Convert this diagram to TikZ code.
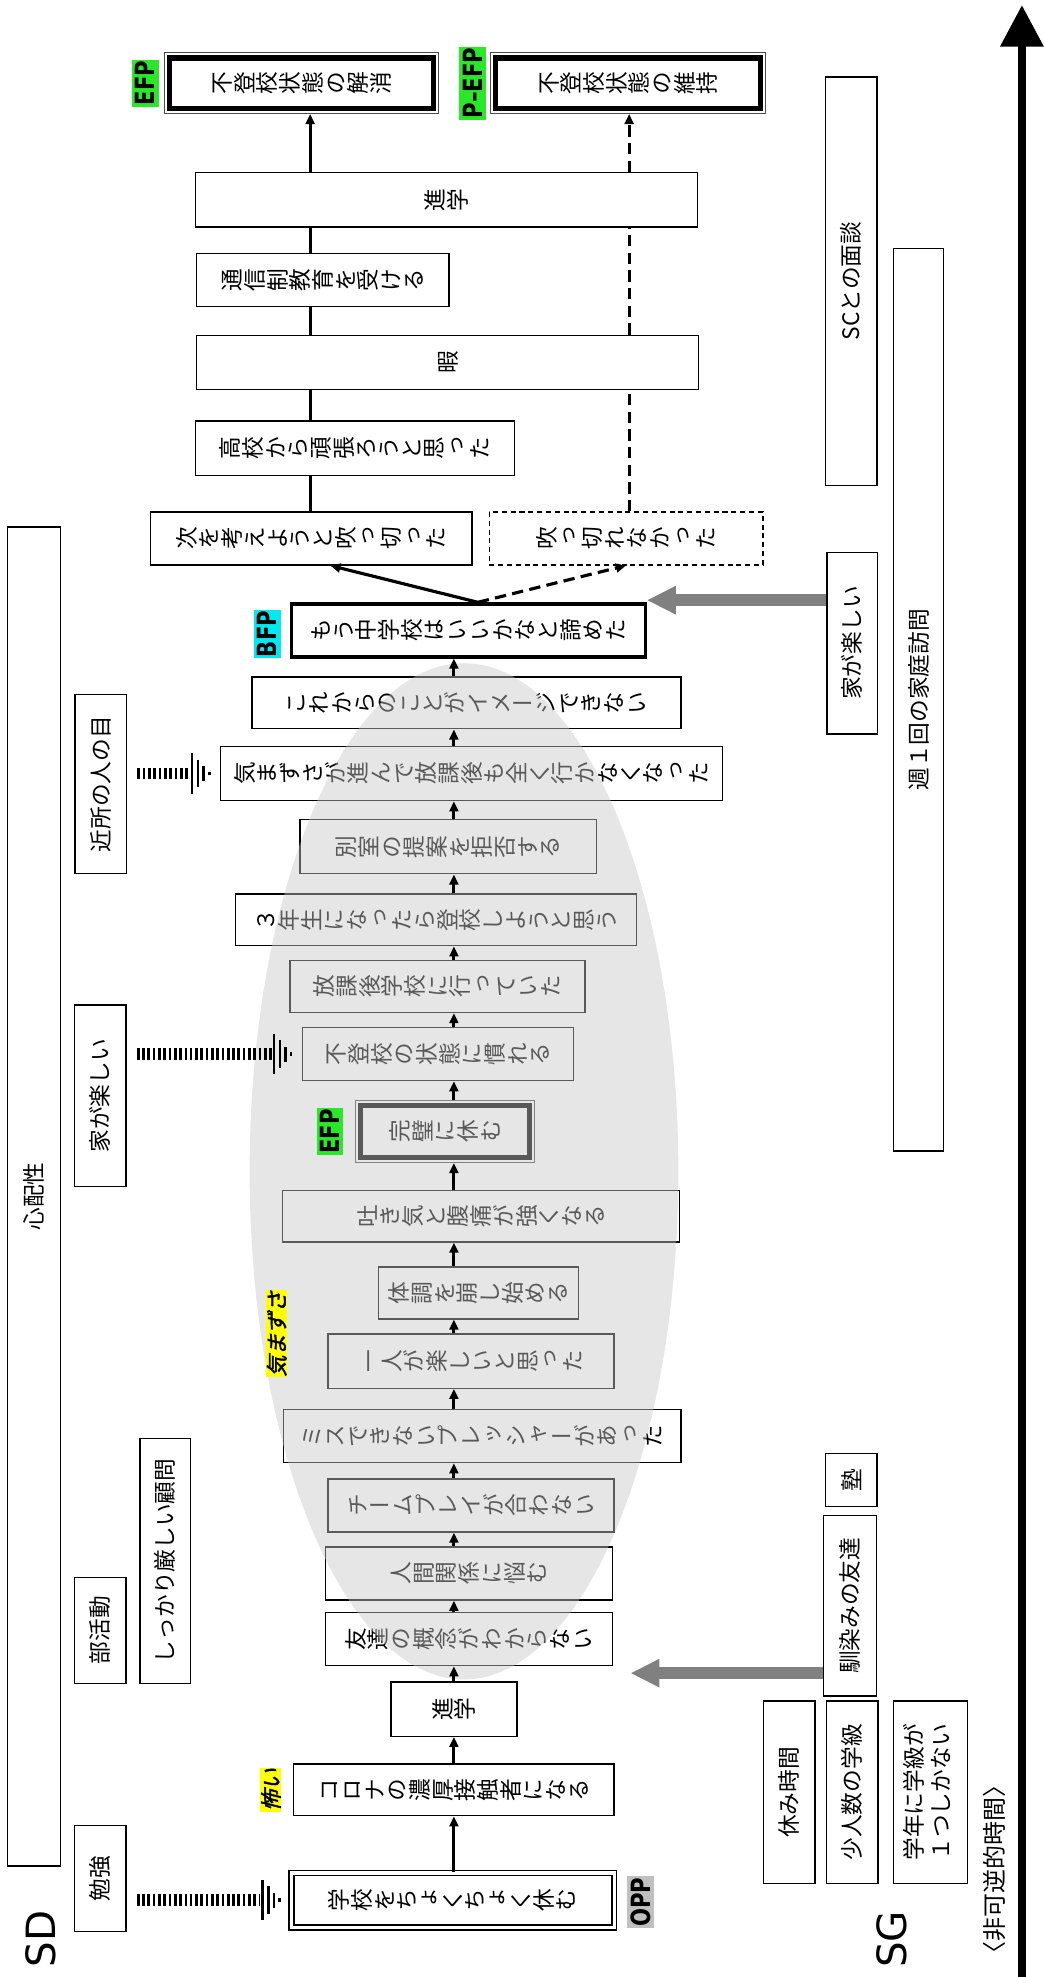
\documentclass[tikz,border=0pt]{standalone}
\usepackage{fontspec}
\usepackage{graphicx}
\usetikzlibrary{arrows.meta}
\usetikzlibrary{positioning}
\usetikzlibrary{fit}
\setmainfont{Noto Sans CJK JP}
\newfontfamily\tatefont[RawFeature=+vert]{Noto Sans CJK JP}
\newfontfamily\tagfont{DejaVu Sans}
\newfontfamily\slantfont[FakeSlant=0.25,FakeBold=2]{Noto Sans CJK JP}
\definecolor{efp-green}{RGB}{40, 232, 40}
\definecolor{bfp-cyan}{RGB}{0, 232, 240}
\definecolor{feel-yellow}{RGB}{255, 255, 0}
\definecolor{opp-gray}{RGB}{192, 192, 192}
\definecolor{sg-gray}{RGB}{128, 128, 128}
\makeatletter
\newcommand\tate[1]{{\tatefont\@tfor\tatechar:=#1\do{\rotatebox{90}{\rule[-0.12em]{0pt}{1em}\tatechar}}}}
\makeatother
\newcommand\yoko[1]{\rotatebox{90}{#1}}
\newcommand\sdline[2]{%
  \draw[sdhatch] (#1.east |- #2.west) ++(8,0) -- ([xshift=-24pt]#2.west);
  \foreach \dx/\hh in {-22/16,-17.5/11,-13/6,-8.5/1.5}
    \draw[line width=2pt] ([shift={(\dx,\hh)}]#2.west) -- ([shift={(\dx,-\hh)}]#2.west);}

\begin{document}
\begin{tikzpicture}[x=1pt, y=-1pt,
  tbox/.style={draw=black, line width=1.1pt, inner sep=0pt, font=\fontsize{18}{20}\selectfont},
  sbox/.style={draw=black, line width=1.1pt, inner sep=0pt, font=\fontsize{18}{21}\selectfont},
  efpbox/.style={draw=black, line width=4pt, inner sep=0pt, font=\fontsize{18}{20}\selectfont},
  efpframe/.style={draw=black!70, line width=0.8pt, inner sep=2pt},
  pointtag/.style={inner xsep=3pt, inner ysep=1pt, font={\fontsize{21}{21}\tagfont\bfseries}},
  feel/.style={fill=feel-yellow, inner sep=0.5pt, font={\fontsize{17}{17}\slantfont}},
  flow/.style={line width=2.5pt, -{Triangle[length=8pt,width=7pt]}},
  link/.style={line width=2.5pt},
  dlink/.style={line width=2.5pt, dash pattern=on 9pt off 5pt},
  sdhatch/.style={line width=9pt, dash pattern=on 2.1pt off 2.1pt},
  sgarrow/.style={draw=sg-gray, line width=9pt, -{Triangle[length=23pt,width=21pt]}},
  timearrow/.style={line width=6.5pt, -{Triangle[length=33pt,width=33pt]}}]
\useasboundingbox (0,0) rectangle (828,1568);

\node[tbox, double, line width=1.5pt, double distance=2.4pt, minimum width=256, minimum height=43] (opp) at (359,1507) {\tate{学校をちょくちょく休む}};
\node[tbox, minimum width=254, minimum height=41] (corona) at (360,1419.5) {\tate{コロナの濃厚接触者になる}};
\node[tbox, minimum width=100, minimum height=43] (shingakuA) at (360,1355.5) {\tate{進学}};
\node[tbox, minimum width=228, minimum height=42] (tomodachi) at (372,1300) {\tate{友達の概念がわからない}};
\node[tbox, minimum width=228, minimum height=42] (ningen) at (372,1248) {\tate{人間関係に悩む}};
\node[tbox, minimum width=227, minimum height=42] (team) at (373.5,1194) {\tate{チームプレイが合わない}};
\node[tbox, minimum width=315, minimum height=42] (misu) at (382.5,1139) {\tate{ミスできないプレッシャーがあった}};
\node[tbox, minimum width=227, minimum height=43] (hitori) at (373.5,1079.5) {\tate{一人が楽しいと思った}};
\node[tbox, minimum width=159, minimum height=41] (taicho) at (379.5,1025.5) {\tate{体調を崩し始める}};
\node[tbox, minimum width=315, minimum height=41] (hakike) at (381.5,964.5) {\tate{吐き気と腹痛が強くなる}};
\node[efpbox, minimum width=134, minimum height=41] (kanpeki) at (353,897.5) {\tate{完璧に休む}};
\node[efpframe, fit=(kanpeki)] (kanpekiF) {};
\node[tbox, minimum width=215, minimum height=42] (nareru) at (347.5,836) {\tate{不登校の状態に慣れる}};
\node[tbox, minimum width=234, minimum height=41] (houkago) at (347,782.5) {\tate{放課後学校に行っていた}};
\node[tbox, minimum width=318, minimum height=41] (sannen) at (346,729.5) {\tate{３年生になったら登校しようと思う}};
\node[tbox, minimum width=235, minimum height=43] (besshitsu) at (355.5,671.5) {\tate{別室の提案を拒否する}};
\node[tbox, minimum width=398, minimum height=43] (kimazu) at (374,613.5) {\tate{気まずさが進んで放課後も全く行かなくなった}};
\node[tbox, minimum width=340, minimum height=41] (korekara) at (370,557.5) {\tate{これからのことがイメージできない}};
\node[tbox, line width=2.6pt, minimum width=281, minimum height=42] (bfp) at (371.5,500) {\tate{もう中学校はいいかなと諦めた}};
\node[tbox, minimum width=255, minimum height=42] (tsugi) at (247,427) {\tate{次を考えようと吹っ切った}};
\node[tbox, dash pattern=on 4pt off 3pt, minimum width=217, minimum height=42] (fukkire) at (496.5,427) {\tate{吹っ切れなかった}};
\node[tbox, minimum width=253, minimum height=43] (koukou) at (281.5,355.5) {\tate{高校から頑張ろうと思った}};
\node[tbox, minimum width=398, minimum height=43] (hima) at (355,287.5) {\tate{暇}};
\node[tbox, minimum width=200, minimum height=42] (tsushin) at (256,222) {\tate{通信制教育を受ける}};
\node[tbox, minimum width=398, minimum height=43] (shingakuB) at (354,158.5) {\tate{進学}};
\node[efpbox, minimum width=209, minimum height=40] (kaisho) at (239,66) {\tate{不登校状態の解消}};
\node[efpframe, fit=(kaisho)] (kaishoF) {};
\node[efpbox, minimum width=210, minimum height=40] (iji) at (498,66) {\tate{不登校状態の維持}};
\node[efpframe, fit=(iji)] (ijiF) {};

\node[sbox, minimum width=42, minimum height=1062] (shinpai) at (27,949) {\yoko{心配性}};
\node[sbox, minimum width=41, minimum height=84] (benkyo) at (79.5,1490) {\yoko{勉強}};
\node[sbox, minimum width=41, minimum height=84] (bukatsu) at (79.5,1293) {\yoko{部活動}};
\node[sbox, minimum width=40, minimum height=194] (komon) at (131,1238) {\yoko{しっかり厳しい顧問}};
\node[sbox, minimum width=41, minimum height=144] (ieSD) at (79.5,869) {\yoko{家が楽しい}};
\node[sbox, minimum width=41, minimum height=142] (kinjo) at (80,622) {\yoko{近所の人の目}};

\node[sbox, minimum width=41, minimum height=145] (yasumi) at (626,1421.5) {\yoko{休み時間}};
\node[sbox, minimum width=41, minimum height=145] (shoninzu) at (676,1421.5) {\yoko{少人数の学級}};
\node[sbox, minimum width=59, minimum height=145] (gakunen) at (738,1421.5) {\yoko{\begin{tabular}{@{}l@{}}学年に学級が\\１つしかない\end{tabular}}};
\node[sbox, minimum width=42, minimum height=143] (najimi) at (674,1273.5) {\yoko{馴染みの友達}};
\node[sbox, minimum width=41, minimum height=42] (juku) at (675,1174) {\yoko{塾}};
\node[sbox, minimum width=40, minimum height=144] (ieSG) at (676,510) {\yoko{家が楽しい}};
\node[sbox, minimum width=40, minimum height=716] (katei) at (728.5,555) {\yoko{週１回の家庭訪問}};
\node[sbox, minimum width=41, minimum height=324] (sc) at (675,223) {\yoko{SCとの面談}};

\fill[black!22, fill opacity=0.45] (368,929) ellipse [x radius=170, y radius=403];

\coordinate (colM) at (360,0);
\coordinate (colL) at (246,0);
\coordinate (colR) at (499,0);
\foreach \a/\b in {opp/corona, corona/shingakuA, shingakuA/tomodachi, tomodachi/ningen, ningen/team, team/misu, misu/hitori, hitori/taicho, taicho/hakike, hakike/kanpekiF, kanpekiF/nareru, nareru/houkago, houkago/sannen, sannen/besshitsu, besshitsu/kimazu, kimazu/korekara, korekara/bfp}
  \draw[flow] (\a.north -| colM) -- (\b.south -| colM);
\foreach \a/\b in {tsugi/koukou, koukou/hima, hima/tsushin, tsushin/shingakuB}
  \draw[link] (\a.north -| colL) -- (\b.south -| colL);
\draw[flow] (shingakuB.north -| colL) -- (kaishoF.south -| colL);
\foreach \a/\b in {fukkire/hima, hima/shingakuB}
  \draw[dlink] (\a.north -| colR) -- (\b.south -| colR);
\draw[flow, dlink] (shingakuB.north -| colR) -- (ijiF.south -| colR);

\coordinate (bfpTop) at ([xshift=7.5pt]bfp.north);
\draw[flow] (bfpTop) -- ([xshift=15pt]tsugi.south);
\draw[flow, dlink] (bfpTop) -- (fukkire.south);

\coordinate (sgTipA) at (500,1327);
\coordinate (sgTipB) at (513,476);
\draw[sgarrow] (najimi.west |- sgTipA) -- (sgTipA);
\draw[sgarrow] (ieSG.west |- sgTipB) -- (sgTipB);

\sdline{benkyo}{opp}
\sdline{ieSD}{nareru}
\sdline{kinjo}{kimazu}

\node[pointtag, fill=opp-gray, right=9pt of opp.south east, anchor=south west] (oppTag) {\yoko{\scalebox{0.8}[1]{OPP}}};
\node[pointtag, fill=efp-green, left=9pt of kanpekiF] (kanpekiTag) {\yoko{\scalebox{0.8}[1]{EFP}}};
\node[pointtag, fill=bfp-cyan, left=7pt of bfp.south west, anchor=south east] (bfpTag) {\yoko{\scalebox{0.8}[1]{BFP}}};
\node[pointtag, fill=efp-green, left=4pt of kaishoF] (kaishoTag) {\yoko{\scalebox{0.8}[1]{EFP}}};
\node[pointtag, fill=efp-green, left=3pt of ijiF] (ijiTag) {\yoko{\scalebox{0.8}[1]{P–EFP}}};
\node[feel, left=9pt of corona] (kowaiTag) {\yoko{怖い}};
\node[feel] (kimazuTag) at (219.5,1058) {\yoko{気まずさ}};

\node[font={\fontsize{32}{32}\tagfont}] (sdTag) at (32,1538) {\yoko{SD}};
\node[font={\fontsize{32}{32}\tagfont}] (sgTag) at (707,1538) {\yoko{SG}};
\node[font=\fontsize{19}{19}\selectfont] (timeTag) at (789,1483) {\yoko{〈非可逆的時間〉}};

\coordinate (timeS) at (810.5,1568);
\coordinate (timeE) at (810.5,4);
\draw[timearrow] (timeS) -- (timeE);
\end{tikzpicture}
\end{document}
